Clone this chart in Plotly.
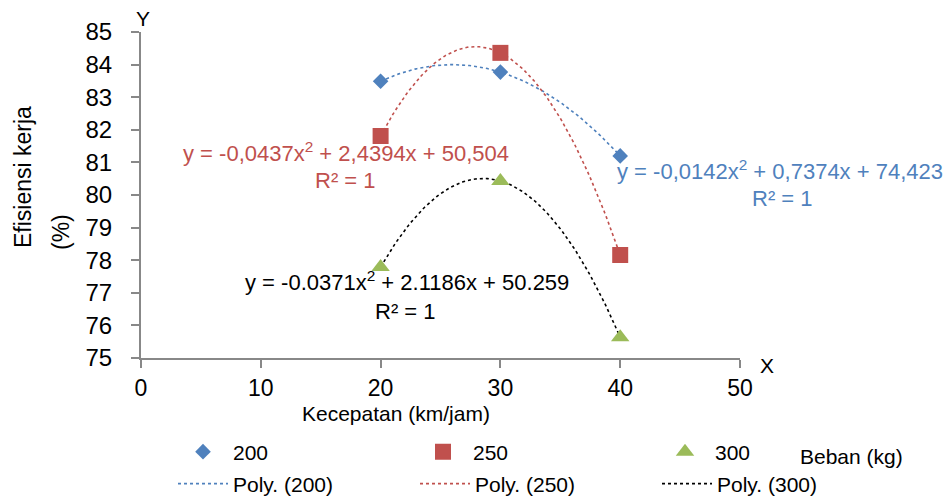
import numpy as np
import plotly.graph_objects as go

# ---- data ----
speed = [20, 30, 40]                      # Kecepatan (km/jam)
eff_200 = [83.49, 83.77, 81.20]           # Beban 200 kg
eff_250 = [81.81, 84.36, 78.16]           # Beban 250 kg
eff_300 = [77.79, 80.43, 75.64]           # Beban 300 kg
series_names = ["200", "250", "300"]
eq_200 = ["y = -0,0142x<sup>2</sup> + 0,7374x + 74,423", "R² = 1"]
eq_250 = ["y = -0,0437x<sup>2</sup> + 2,4394x + 50,504", "R² = 1"]
eq_300 = ["y = -0.0371x<sup>2</sup> + 2.1186x + 50.259", "R² = 1"]
x_ticks = [0, 10, 20, 30, 40, 50]
y_ticks = [75, 76, 77, 78, 79, 80, 81, 82, 83, 84, 85]

FONT = "Liberation Sans, Arial, sans-serif"
BLUE, RED, GREEN = "#4F81BD", "#C0504D", "#9BBB59"
W, H = 950, 500
L, R, T, B = 141, 740, 32, 358   # plot area in pixels

fig = go.Figure()
data = [eff_200, eff_250, eff_300]
markers = [("diamond", BLUE, 12), ("square", RED, 16), ("triangle-up", GREEN, 16)]
trend_cols = [BLUE, RED, "#000000"]

# legend placements (item start x, row centre y) in pixels
mk_leg = [(173, 452), (413, 452), (655, 452)]
ln_leg = [(173, 484), (415, 484), (657, 484)]

legends = {}
xs = np.linspace(min(speed), max(speed), 120)
for i, (name, ys, col) in enumerate(zip(series_names, data, trend_cols)):
    coef = np.polyfit(speed, ys, 2)
    lname = f"legend{4 + i}"
    fig.add_trace(go.Scatter(x=xs, y=np.polyval(coef, xs), mode="lines",
                             name=f"Poly. ({name})",
                             line=dict(color=col, width=1.6, dash="dot"),
                             legend=lname, hoverinfo="skip"))
    legends[lname] = ln_leg[i]

for i, (name, ys, (sym, col, sz)) in enumerate(zip(series_names, data, markers)):
    lname = "legend" if i == 0 else f"legend{1 + i}"
    fig.add_trace(go.Scatter(x=speed, y=ys, mode="markers", name=name,
                             marker=dict(symbol=sym, color=col, size=sz),
                             legend=lname))
    legends[lname] = mk_leg[i]

axis_common = dict(showgrid=False, zeroline=False, showline=True, linecolor="#888888",
                   linewidth=2, ticks="outside", ticklen=8, tickwidth=2,
                   tickcolor="#888888")

layout_legends = {}
for lname, (lx, ly) in legends.items():
    layout_legends[lname] = dict(orientation="h", xref="container", yref="container",
                                 x=lx / W, y=1 - ly / H, xanchor="left", yanchor="middle",
                                 itemwidth=50, font=dict(family=FONT, size=21, color="#000"),
                                 bgcolor="rgba(0,0,0,0)", borderwidth=0)

fig.update_layout(
    width=W, height=H,
    margin=dict(l=L, r=W - R, t=T, b=H - B, autoexpand=False),
    paper_bgcolor="white", plot_bgcolor="white",
    font=dict(family=FONT, size=21, color="#000"),
    xaxis=dict(range=[0, 50], tickvals=x_ticks,
               tickfont=dict(family=FONT, size=23, color="#000"), **axis_common),
    yaxis=dict(range=[75, 85], tickvals=y_ticks, ticklabelstandoff=14,
               tickfont=dict(family=FONT, size=24, color="#000"), **axis_common),
    showlegend=True,
    **layout_legends,
)

def pp(px, py):
    return (px - L) / (R - L), (B - py) / (B - T)

ann = []
def text_at(text, px, py, size, col="#000000", angle=0):
    x, y = pp(px, py)
    ann.append(dict(text=text, x=x, y=y, xref="paper", yref="paper", showarrow=False,
                    textangle=angle, font=dict(family=FONT, size=size, color=col),
                    xanchor="center", yanchor="middle"))

text_at(eq_250[0], 346, 152, 22, RED)
text_at(eq_250[1], 345, 180, 22, RED)
text_at(eq_200[0], 780, 170, 22, BLUE)
text_at(eq_200[1], 782, 199, 22, BLUE)
text_at(eq_300[0], 407, 281, 22, "#000000")
text_at(eq_300[1], 405, 311, 22, "#000000")

text_at("Efisiensi kerja", 23, 177, 23, angle=-90)
text_at("(%)", 61, 232, 23, angle=-90)
text_at("Kecepatan (km/jam)", 396, 413, 21)
text_at("Y", 143, 18, 21)
text_at("X", 767, 365, 21)
text_at("Beban (kg)", 851, 456, 21)

fig.update_layout(annotations=ann)
fig.write_html("out.html")
